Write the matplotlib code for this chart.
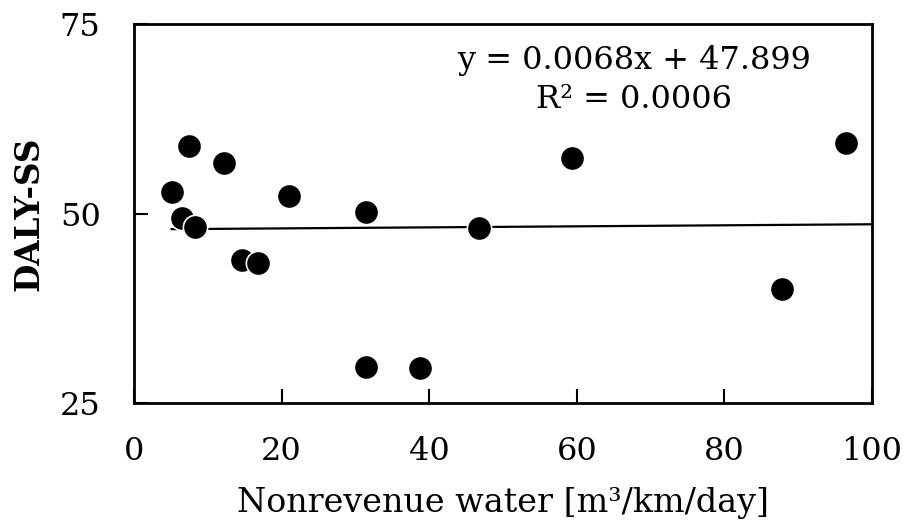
import matplotlib
matplotlib.use("Agg")
import matplotlib.pyplot as plt
import numpy as np

x_vals = [5.1, 6.5, 7.4, 8.3, 12.2, 14.6, 16.8, 21.0, 31.5, 31.5, 38.8, 46.8, 59.4, 87.8, 96.5]
y_vals = [52.9, 49.4, 58.9, 48.2, 56.6, 43.8, 43.5, 52.3, 50.2, 29.8, 29.6, 48.1, 57.3, 40.0, 59.3]
slope = 0.0068
intercept = 47.899
eq_text = "y = 0.0068x + 47.899"
r2_text = "R² = 0.0006"
x_ticks = [0, 20, 40, 60, 80, 100]
y_ticks = [25, 50, 75]
x_label = "Nonrevenue water [m³/km/day]"
y_label = "DALY-SS"

plt.rcParams['font.family'] = ['DejaVu Serif']

fig = plt.figure(figsize=(9.08, 5.26), dpi=100)
ax = fig.add_axes([134/908, (526-403)/526, 738/908, 379/526])

tx = np.array([min(x_vals), 100])
ax.plot(tx, slope*tx + intercept, color='black', lw=1.6, zorder=2)
ax.plot(x_vals, y_vals, 'o', ms=17.5, mfc='black', mec='white', mew=1.2, zorder=3, clip_on=False)

ax.set_xlim(0, 100)
ax.set_ylim(25, 75)
ax.set_xticks(x_ticks)
ax.set_yticks(y_ticks)
ax.tick_params(direction='in', length=10, width=1.5, labelsize=23)
ax.tick_params(axis='x', pad=24)
ax.tick_params(axis='y', pad=24)
for s in ax.spines.values():
    s.set_linewidth(2)

ax.set_xlabel(x_label, fontsize=24, labelpad=14)
ax.set_ylabel(y_label, fontsize=23.5, fontweight='bold', labelpad=10)

ax.text(0.678, 0.905, eq_text, transform=ax.transAxes, ha='center', va='center', fontsize=23)
ax.text(0.678, 0.80, r2_text, transform=ax.transAxes, ha='center', va='center', fontsize=23)

fig.savefig("out.png", dpi=100)
